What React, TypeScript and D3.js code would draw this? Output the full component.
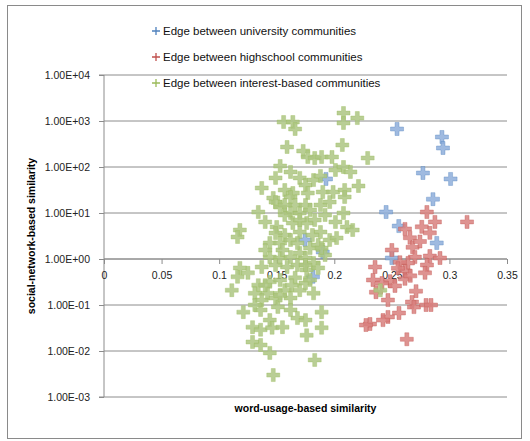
import React, { useEffect, useRef } from 'react';
import * as d3 from 'd3';

// word-usage-based similarity (x) vs social-network-based similarity (y)
const university: [number, number][] = [
  [0.2545, 670], [0.2935, 449], [0.2944, 259], [0.277, 74], [0.301, 55],
  [0.2857, 20], [0.245, 10.5], [0.256, 5.2], [0.289, 2.23], [0.25, 1.05],
  [0.1928, 55], [0.1746, 2.6], [0.19, 1.42], [0.1815, 0.41],
];

const highschool: [number, number][] = [
  [0.2804, 10.5], [0.3153, 6.4], [0.2874, 6.4], [0.276, 5.0], [0.2614, 4.5],
  [0.283, 3.7], [0.2657, 2.9], [0.268, 1.8], [0.25, 1.57], [0.283, 1.16],
  [0.2918, 1.05], [0.27, 1.1], [0.264, 0.82], [0.2805, 0.74], [0.2354, 0.67],
  [0.2614, 0.55], [0.2788, 0.5], [0.2336, 0.35], [0.2614, 0.37], [0.2484, 0.33],
  [0.2414, 0.3], [0.271, 0.2], [0.2362, 0.19], [0.2466, 0.128], [0.2675, 0.116],
  [0.2692, 0.09], [0.2797, 0.1], [0.284, 0.1], [0.2562, 0.067], [0.2466, 0.055],
  [0.2423, 0.047], [0.231, 0.0386], [0.2275, 0.0367], [0.263, 0.018],
  [0.257, 0.85], [0.2553, 0.63], [0.266, 0.43], [0.2527, 0.26], [0.2744, 2.4],
];

const interest: [number, number][] = [
  [0.208, 1490], [0.22, 1160], [0.208, 905], [0.156, 950], [0.164, 950],
  [0.166, 670], [0.159, 272], [0.173, 223], [0.177, 165], [0.183, 157],
  [0.189, 165], [0.198, 165], [0.207, 301], [0.229, 157], [0.153, 105],
  [0.162, 78], [0.17, 58], [0.175, 40.6], [0.182, 52], [0.188, 64],
  [0.201, 86], [0.208, 100], [0.214, 78], [0.149, 58], [0.137, 34.9],
  [0.157, 31.6], [0.164, 27.2], [0.147, 21.2], [0.177, 27.2], [0.19, 28.6],
  [0.199, 28.6], [0.209, 31.6], [0.221, 38.6], [0.209, 22.3], [0.149, 17.3],
  [0.162, 22.3], [0.153, 13.5], [0.134, 10.5], [0.162, 10], [0.17, 10],
  [0.188, 14.9], [0.196, 17.3], [0.208, 10], [0.14, 6.37], [0.15, 4.96],
  [0.164, 6.06], [0.176, 6.06], [0.183, 7.05], [0.192, 9.05], [0.201, 6.37],
  [0.118, 4.27], [0.116, 3.01], [0.211, 4.96], [0.216, 4.27], [0.188, 3.86],
  [0.17, 3.86], [0.157, 3.32], [0.144, 2.23], [0.153, 2.23], [0.162, 2.59],
  [0.196, 2.59], [0.202, 2.86], [0.179, 1.73], [0.17, 1.35], [0.186, 2.01],
  [0.144, 1.1], [0.153, 1.05], [0.162, 1.1], [0.192, 1.22], [0.137, 0.67],
  [0.118, 0.64], [0.159, 0.67], [0.168, 0.74], [0.182, 0.82], [0.176, 0.58],
  [0.116, 0.41], [0.125, 0.5], [0.134, 0.27], [0.144, 0.32], [0.153, 0.35],
  [0.111, 0.21], [0.131, 0.18], [0.142, 0.18], [0.157, 0.21], [0.17, 0.21],
  [0.137, 0.128], [0.149, 0.142], [0.162, 0.142], [0.121, 0.07], [0.136, 0.078],
  [0.151, 0.091], [0.162, 0.078], [0.189, 0.07], [0.168, 0.052], [0.175, 0.047],
  [0.144, 0.047], [0.129, 0.033], [0.136, 0.029], [0.146, 0.032], [0.155, 0.033],
  [0.176, 0.022], [0.129, 0.0157], [0.136, 0.0135], [0.144, 0.0091], [0.189, 0.032],
  [0.183, 0.0064], [0.147, 0.003], [0.24, 0.21], [0.182, 0.18],
  [0.166, 14.9], [0.175, 14.9], [0.157, 9.05], [0.179, 11.6], [0.168, 2.23],
  [0.175, 1.05], [0.149, 0.74], [0.166, 0.39], [0.175, 0.3], [0.155, 1.57],
  [0.149, 3.67], [0.186, 0.64], [0.179, 0.35], [0.14, 0.27], [0.17, 7.05],
  [0.181, 3.32], [0.189, 1.73], [0.163, 0.27], [0.153, 0.16], [0.131, 0.1],
  [0.175, 0.74], [0.14, 1.57], [0.157, 14.9],
];

const xTicks = [0, 0.05, 0.1, 0.15, 0.2, 0.25, 0.3, 0.35];
const yTicks = [1e-3, 1e-2, 1e-1, 1, 10, 100, 1000, 10000];

const seriesNames = [
  'Edge between university communities',
  'Edge between highschool communities',
  'Edge between interest-based communities',
];
const seriesColors = ['#4F81BD', '#C0504D', '#9BBB59'];
const seriesFills = ['#8EAEDA', '#D8807E', '#ADC583'];

const plusPath = 'M-2,-6.5h4v4.5h4.5v4h-4.5v4.5h-4v-4.5h-4.5v-4h4.5z';

const fmtExp = (v: number) => {
  const e = Math.round(Math.log10(v));
  return '1.00E' + (e < 0 ? '-' : '+') + String(Math.abs(e)).padStart(2, '0');
};

export default function App() {
  const ref = useRef<SVGSVGElement>(null);

  useEffect(() => {
    const svg = d3.select(ref.current);
    svg.selectAll('*').remove();
    const left = 104, right = 507, top = 75, bottom = 397;
    const font = 'Liberation Sans, Arial, sans-serif';

    const x = d3.scaleLinear().domain([0, 0.35]).range([left, right]);
    const y = d3.scaleLog().domain([1e-3, 1e4]).range([bottom, top]);

    const defs = svg.append('defs');
    const f = defs.append('filter').attr('id', 'soft')
      .attr('x', '-50%').attr('y', '-50%').attr('width', '200%').attr('height', '200%');
    f.append('feGaussianBlur').attr('in', 'SourceGraphic').attr('stdDeviation', 0.6);

    svg.append('rect')
      .attr('x', 7.5).attr('y', 5.5).attr('width', 514).attr('height', 433)
      .attr('fill', '#fff').attr('stroke', '#8a8a8a');

    // gridlines
    svg.append('g').selectAll('line').data(yTicks).join('line')
      .attr('x1', left).attr('x2', right)
      .attr('y1', (d) => y(d)).attr('y2', (d) => y(d))
      .attr('stroke', '#8c8c8c').attr('stroke-width', 1);

    const yAxis = svg.append('g').attr('transform', `translate(${left},0)`)
      .call(d3.axisLeft(y).tickValues(yTicks).tickFormat((d) => fmtExp(+d)).tickSize(5).tickPadding(9));
    yAxis.selectAll('path,line').attr('stroke', '#8c8c8c');
    yAxis.select('.domain').attr('d', `M-5,${top}H0V${bottom}H-5`);
    yAxis.selectAll('text').attr('font-family', font).attr('font-size', 10.5).attr('fill', '#222');

    const xAxis = svg.append('g').attr('transform', `translate(0,${y(1)})`)
      .call(d3.axisBottom(x).tickValues(xTicks).tickFormat((d) => String(+d)).tickSize(5).tickPadding(8));
    xAxis.selectAll('path,line').attr('stroke', '#8c8c8c');
    xAxis.select('.domain').attr('d', `M${left},0H${right}`);
    xAxis.selectAll('text').attr('font-family', font).attr('font-size', 10.5).attr('fill', '#222');

    const all = [university, highschool, interest];
    all.forEach((pts, i) => {
      svg.append('g').attr('filter', 'url(#soft)').selectAll('path').data(pts).join('path')
        .attr('d', plusPath)
        .attr('transform', (d) => `translate(${x(d[0])},${y(d[1])})`)
        .attr('fill', seriesFills[i]).attr('fill-opacity', 0.85)
        .attr('stroke', seriesColors[i]).attr('stroke-width', 0.6).attr('stroke-opacity', 0.6);
    });

    // legend
    const lg = svg.append('g');
    seriesNames.forEach((name, i) => {
      const ly = 31 + i * 26;
      lg.append('path').attr('d', `M${152},${ly}h8M${156},${ly - 4}v8`)
        .attr('stroke', seriesColors[i]).attr('stroke-width', 1.3);
      lg.append('text').attr('x', 163).attr('y', ly).attr('dy', '0.35em')
        .attr('font-family', font).attr('font-size', 11.5).attr('fill', '#111').text(name);
    });

    svg.append('text')
      .attr('transform', `translate(31,${(top + bottom) / 2}) rotate(-90)`)
      .attr('text-anchor', 'middle').attr('dy', '0.35em')
      .attr('font-family', font).attr('font-size', 10.5).attr('font-weight', 'bold')
      .text('social-network-based similarity');

    svg.append('text')
      .attr('x', (left + right) / 2).attr('y', 408).attr('dy', '0.35em')
      .attr('text-anchor', 'middle')
      .attr('font-family', font).attr('font-size', 10.5).attr('font-weight', 'bold')
      .text('word-usage-based similarity');
  }, []);

  return (
    <svg ref={ref} width={530} height={441}
      style={{ position: 'absolute', left: 0, top: 0, background: '#fff' }} />
  );
}
